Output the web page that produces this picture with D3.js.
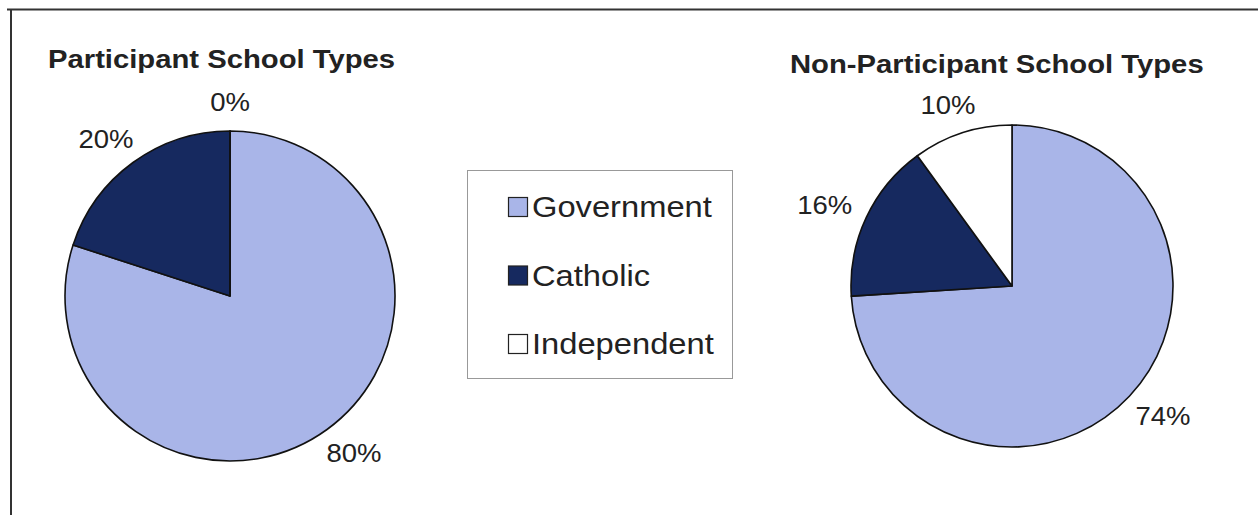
<!DOCTYPE html>
<html>
<head>
<meta charset="utf-8">
<script src="https://cdn.jsdelivr.net/npm/d3@7"></script>
<style>
  html, body { margin: 0; padding: 0; background: #fff; }
  svg { display: block; }
</style>
</head>
<body>
<div id="chart"></div>
<script>
// 数据
var categories = ["Government", "Catholic", "Independent"];
var participantValues = [80, 20, 0];
var nonParticipantValues = [74, 16, 10];
var pieTitles = ["Participant School Types", "Non-Participant School Types"];

var W = 1258, H = 515;
var colors = d3.scaleOrdinal()
  .domain(categories)
  .range(["#a9b5e8", "#16295f", "#ffffff"]);

var svg = d3.select("#chart").append("svg")
  .attr("width", W)
  .attr("height", H)
  .attr("viewBox", `0 0 ${W} ${H}`);

// 外框 (只有上边和左边)
svg.append("line")
  .attr("x1", 7).attr("y1", 9.5).attr("x2", W).attr("y2", 9.5)
  .attr("stroke", "#333").attr("stroke-width", 2);
svg.append("line")
  .attr("x1", 11).attr("y1", 9).attr("x2", 11).attr("y2", H)
  .attr("stroke", "#333").attr("stroke-width", 2);

var fontFam = "Arial, 'Liberation Sans', Helvetica, sans-serif";

// 两个饼图的位置
var pies = [
  { values: participantValues, cx: 230, cy: 296, r: 165, title: pieTitles[0], tx: 48, ty: 68 },
  { values: nonParticipantValues, cx: 1012, cy: 286, r: 161, title: pieTitles[1], tx: 790, ty: 73 }
];

var pie = d3.pie().sort(null).value(d => d.value);

pies.forEach(function (p) {
  var data = categories.map((c, i) => ({ name: c, value: p.values[i] }));
  var arcs = pie(data);
  var arc = d3.arc().innerRadius(0).outerRadius(p.r);
  var g = svg.append("g").attr("transform", `translate(${p.cx},${p.cy})`);

  g.selectAll("path")
    .data(arcs)
    .join("path")
    .attr("d", arc)
    .attr("fill", d => colors(d.data.name))
    .attr("stroke", "#111")
    .attr("stroke-width", 1.6)
    .attr("stroke-linejoin", "round");

  // 百分比标签
  var gap = 20;
  var lw = 52, lh = 18;
  g.selectAll("text.lbl")
    .data(arcs)
    .join("text")
    .attr("class", "lbl")
    .attr("transform", function (d) {
      var a = (d.startAngle + d.endAngle) / 2;
      var ux = Math.sin(a), uy = -Math.cos(a);
      var x = ux * (p.r + gap) + ux * lw / 2;
      var y = uy * (p.r + gap) + uy * lh / 2;
      return `translate(${x},${y}) scale(1.1,1)`;
    })
    .attr("text-anchor", "middle")
    .attr("dy", "0.36em")
    .attr("font-family", fontFam)
    .attr("font-size", 25)
    .attr("fill", "#222")
    .text(d => d.data.value + "%");

  // 标题
  svg.append("text")
    .attr("transform", `translate(${p.tx},${p.ty}) scale(1.125,1)`)
    .attr("font-family", fontFam)
    .attr("font-weight", "bold")
    .attr("font-size", 26)
    .attr("fill", "#222")
    .text(p.title);
});

// 图例
var legend = svg.append("g");
legend.append("rect")
  .attr("x", 467.5).attr("y", 170.5)
  .attr("width", 265).attr("height", 208)
  .attr("fill", "#fff")
  .attr("stroke", "#999")
  .attr("stroke-width", 1);

var legendY = d3.scalePoint().domain(categories).range([217, 354]);
var items = legend.selectAll("g.item")
  .data(categories)
  .join("g")
  .attr("class", "item")
  .attr("transform", d => `translate(508,${legendY(d)})`);

items.append("rect")
  .attr("x", 0.5).attr("y", -19.5)
  .attr("width", 19).attr("height", 19)
  .attr("fill", d => colors(d))
  .attr("stroke", "#222")
  .attr("stroke-width", 1.2);

items.append("text")
  .attr("transform", "translate(24,0) scale(1.09,1)")
  .attr("font-family", fontFam)
  .attr("font-size", 30)
  .attr("fill", "#222")
  .text(d => d);
</script>
</body>
</html>
